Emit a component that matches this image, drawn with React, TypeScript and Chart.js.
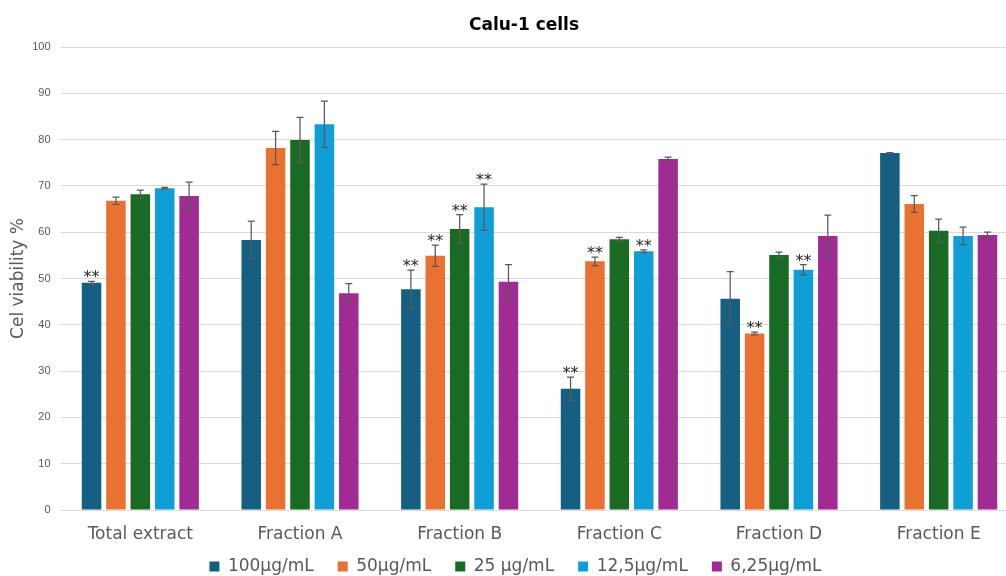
import React, { useEffect, useRef } from "react";
import { Chart, registerables } from "chart.js";

Chart.register(...registerables);

const chartTitle = "Calu-1 cells";
const yAxisTitle = "Cel viability %";
const categories = ["Total extract", "Fraction A", "Fraction B", "Fraction C", "Fraction D", "Fraction E"];
const seriesNames = ["100µg/mL", "50µg/mL", "25 µg/mL", "12,5µg/mL", "6,25µg/mL"];
const seriesColors = ["#156082", "#E97132", "#196B24", "#0F9ED5", "#A02B93"];

const values100 = [49.1, 58.3, 47.7, 26.2, 45.6, 77.1];
const errors100 = [0.3, 4.1, 4.1, 2.5, 5.9, 0.1];
const values50 = [66.8, 78.2, 54.9, 53.7, 38.1, 66.1];
const errors50 = [0.8, 3.6, 2.3, 0.9, 0.3, 1.8];
const values25 = [68.2, 79.9, 60.7, 58.5, 55.1, 60.3];
const errors25 = [0.9, 4.9, 3.1, 0.4, 0.6, 2.5];
const values12 = [69.5, 83.3, 65.4, 55.9, 51.9, 59.2];
const errors12 = [0.2, 5.0, 5.0, 0.3, 1.1, 1.9];
const values6 = [67.8, 46.8, 49.3, 75.8, 59.2, 59.4];
const errors6 = [3.0, 2.1, 3.7, 0.4, 4.5, 0.6];

const signif100 = [true, false, true, true, false, false];
const signif50 = [false, false, true, true, true, false];
const signif25 = [false, false, true, false, false, false];
const signif12 = [false, false, true, true, true, false];
const signif6 = [false, false, false, false, false, false];

const yMin = 0;
const yMax = 100;
const yStep = 10;

const allValues = [values100, values50, values25, values12, values6];
const allErrors = [errors100, errors50, errors25, errors12, errors6];
const allSignif = [signif100, signif50, signif25, signif12, signif6];

const errorBarPlugin = {
  id: "errorBars",
  afterLayout(chart: any) {
    if (chart.legend) {
      chart.legend.left -= 8.5;
      chart.legend.right -= 8.5;
    }
  },
  afterDatasetsDraw(chart: any) {
    const ctx = chart.ctx;
    const yScale = chart.scales.y;
    ctx.save();
    chart.data.datasets.forEach((ds: any, di: number) => {
      const meta = chart.getDatasetMeta(di);
      meta.data.forEach((bar: any, i: number) => {
        const v = ds.data[i];
        const e = ds.errors[i];
        const x = bar.x;
        const yTop = yScale.getPixelForValue(v + e);
        const yBot = yScale.getPixelForValue(v - e);
        ctx.strokeStyle = "#595959";
        ctx.lineWidth = 1.25;
        ctx.beginPath();
        ctx.moveTo(x, yTop);
        ctx.lineTo(x, yBot);
        ctx.moveTo(x - 3.5, yTop);
        ctx.lineTo(x + 3.5, yTop);
        ctx.moveTo(x - 3.5, yBot);
        ctx.lineTo(x + 3.5, yBot);
        ctx.stroke();
        if (ds.signif[i]) {
          ctx.fillStyle = "#262626";
          ctx.font = "16px 'DejaVu Sans'";
          ctx.textAlign = "center";
          ctx.textBaseline = "alphabetic";
          ctx.fillText("**", x, yTop + 1);
        }
      });
    });
    ctx.restore();
  },
};

export default function App() {
  const canvasRef = useRef<HTMLCanvasElement | null>(null);

  useEffect(() => {
    if (!canvasRef.current) return;
    const chart = new Chart(canvasRef.current, {
      type: "bar",
      data: {
        labels: categories,
        datasets: seriesNames.map((name, k) => ({
          label: name,
          data: allValues[k],
          errors: allErrors[k],
          signif: allSignif[k],
          backgroundColor: seriesColors[k],
          borderWidth: 0,
          categoryPercentage: 0.764,
          barPercentage: 0.8,
        })) as any,
      },
      options: {
        responsive: false,
        animation: false,
        devicePixelRatio: 1,
        layout: { padding: 0 },
        plugins: {
          title: {
            display: true,
            text: chartTitle,
            color: "#000000",
            font: { family: "'DejaVu Sans'", size: 17, weight: "bold" },
            padding: { top: 15, bottom: 11.6 },
          },
          legend: {
            display: true,
            position: "bottom",
            labels: {
              boxWidth: 10,
              boxHeight: 10,
              padding: 24,
              color: "#595959",
              font: { family: "'DejaVu Sans'", size: 17 },
            },
          },
          tooltip: { enabled: false },
        },
        scales: {
          x: {
            grid: { display: false, drawTicks: false },
            border: { display: true, color: "#d9d9d9" },
            ticks: {
              color: "#595959",
              font: { family: "'DejaVu Sans'", size: 17 },
              padding: 14,
              maxRotation: 0,
              autoSkip: false,
            },
            afterFit: (scale: any) => {
              scale.height = 24;
              scale._computeLabelArea = () => undefined;
            },
          },
          y: {
            min: yMin,
            max: yMax,
            grid: { color: "#d9d9d9", drawTicks: false },
            border: { display: false },
            ticks: {
              stepSize: yStep,
              color: "#595959",
              font: { family: "'Liberation Sans'", size: 11 },
              padding: 10,
            },
            title: {
              display: true,
              text: yAxisTitle,
              color: "#595959",
              font: { family: "'DejaVu Sans'", size: 17 },
              padding: { top: 8, bottom: 0 },
            },
            afterFit: (scale: any) => {
              scale.width = 60.5;
            },
          },
          yR: {
            type: "linear",
            position: "right",
            display: true,
            grid: { display: false },
            border: { display: false },
            ticks: { display: false },
            afterFit: (scale: any) => {
              scale.width = 29.5;
            },
          },
        },
      } as any,
      plugins: [errorBarPlugin],
    });
    return () => chart.destroy();
  }, []);

  return (
    <div
      style={{
        position: "fixed",
        left: 0,
        top: 0,
        width: 1006,
        height: 576,
        overflow: "hidden",
        background: "#ffffff",
      }}
    >
      <canvas ref={canvasRef} width={1048} height={585} style={{ display: "block" }} />
    </div>
  );
}
